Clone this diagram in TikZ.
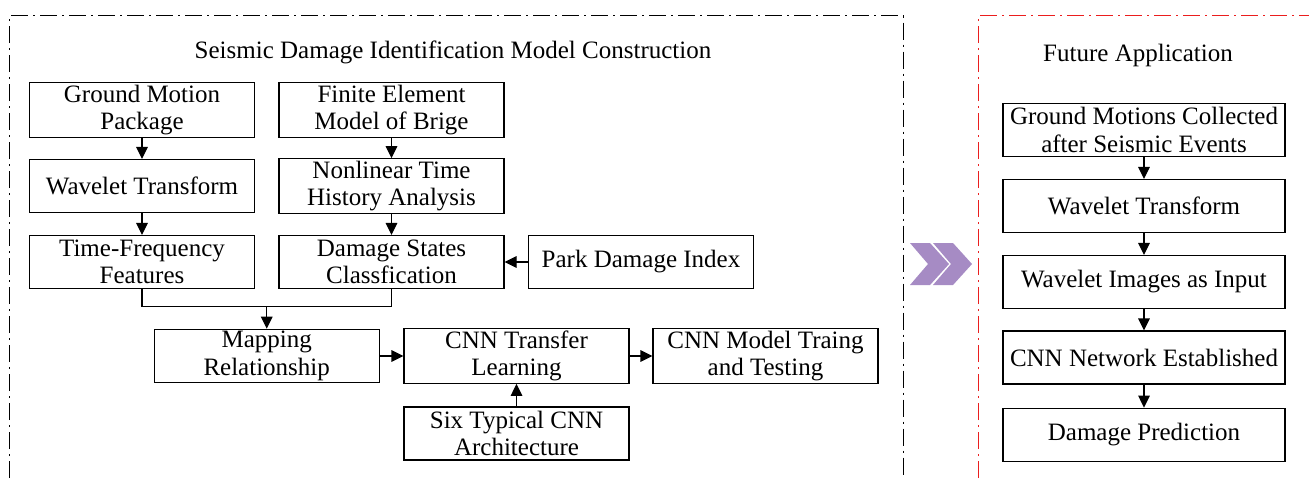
\documentclass[tikz,border=0pt]{standalone}
\usepackage{fontspec}
\setmainfont{Liberation Serif}
\usetikzlibrary{arrows.meta,positioning,calc}
\definecolor{chev}{RGB}{166,139,196}
\definecolor{redframe}{RGB}{235,30,30}

\begin{document}
\begin{tikzpicture}[x=0.5pt,y=-0.5pt,font=\fontsize{12.5}{13.8}\selectfont]
  %----- styles
  \tikzset{
    box/.style   ={draw,line width=0.6pt,minimum width=112.5pt,minimum height=26.5pt,inner sep=1pt,align=center},
    wide/.style  ={box,minimum width=141pt},
    arrow/.style ={-{Triangle[length=6pt,width=5.8pt]},line width=0.6pt},
    frame/.style ={line width=0.6pt,dash pattern=on 8.5pt off 2.5pt on 1pt off 2.5pt}
  }
  \useasboundingbox (0,0) rectangle (1309,478);

  %==================== COLUMN LAYOUT ====================
  \def\xA{142}     % ground motion column
  \def\xB{391.5}   % bridge model column
  \def\xC{641}     % damage index column
  \def\xR{1144}    % future application column

  %----- frames
  \draw[frame] (9.3,478) -- (9.3,15.7) -- (903.2,15.7) -- (903.2,478);
  \draw[frame,redframe] (978.3,478) -- (978.3,15.7) -- (1309,15.7);
  \node (title) at (453,52) {Seismic Damage Identification Model Construction};
  \node (future) at (1138,55) {Future Application};

  %----- nodes
  % Left part: three columns of boxes
  \node[box] (gmp) at (\xA,110) {Ground Motion\\Package};
  \node[box] (fem) at (\xB,110) {Finite Element\\Model of Brige};
  \node[box] (wtl) at (\xA,186) {Wavelet Transform};
  \node[box] (nth) at (\xB,186) {Nonlinear Time\\History Analysis};
  \node[box] (tff) at (\xA,262) {Time-Frequency\\Features};
  \node[box] (dsc) at (\xB,262) {Damage States\\Classfication};
  \node[box] (pdi) at (\xC,262) {Park Damage Index};

  % Bottom row: mapping, transfer learning, training
  \node[box] (map) at (266.7,356) {Mapping\\Relationship};
  \node[box] (ctl) at (516.5,356) {CNN Transfer\\Learning};
  \node[box] (ctt) at (765.5,356) {CNN Model Traing\\and Testing};
  \node[box] (six) at (516.5,433.5) {Six Typical CNN\\Architecture};

  % Right part: application chain
  \node[wide] (gmc) at (\xR,130) {Ground Motions Collected\\after Seismic Events};
  \node[wide] (wtr) at (\xR,206) {Wavelet Transform};
  \node[wide] (wim) at (\xR,282) {Wavelet Images as Input};
  \node[wide] (cne) at (\xR,357.5) {CNN Network Established};
  \node[wide] (dpr) at (\xR,434.7) {Damage Prediction};

  % double chevron between the two parts
  \fill[chev] (910,243) -- (930,243) -- (949,264) -- (930,285) -- (910,285) -- (928,264) -- cycle;
  \fill[chev] (933,243) -- (953,243) -- (972,264) -- (953,285) -- (933,285) -- (951,264) -- cycle;

  %----- connections
  \draw[arrow] (gmp.south) -- (wtl.north);
  \draw[arrow] (wtl.south) -- (tff.north);
  \draw[arrow] (fem.south) -- (nth.north);
  \draw[arrow] (nth.south) -- (dsc.north);
  \draw[arrow] (pdi.west) -- (dsc.east);

  % features + states -> mapping
  \coordinate (join) at (266.7,306.7);
  \draw[line width=0.6pt] (tff.south) |- (join) -| (dsc.south);
  \draw[arrow] (join) -- (map.north);

  \draw[arrow] (map.east) -- (ctl.west);
  \draw[arrow] (ctl.east) -- (ctt.west);
  \draw[arrow] (six.north) -- (ctl.south);

  % application chain
  \draw[arrow] (gmc.south) -- (wtr.north);
  \draw[arrow] (wtr.south) -- (wim.north);
  \draw[arrow] (wim.south) -- (cne.north);
  \draw[arrow] (cne.south) -- (dpr.north);

\end{tikzpicture}
\end{document}
